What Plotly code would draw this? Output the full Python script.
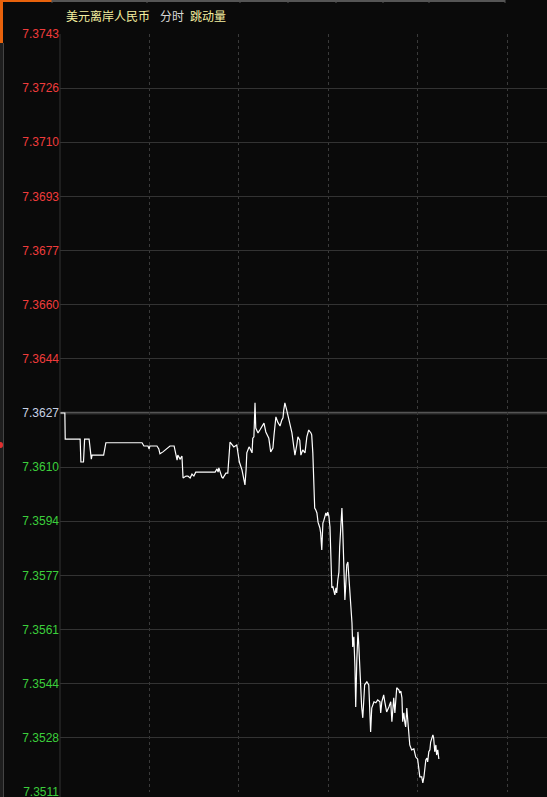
import numpy as np
import plotly.graph_objects as go

BG = "#0a0a0a"
GRID = "#333333"
UP_RED = "#f03c3c"
DOWN_GREEN = "#3ccf3c"
FLAT = "#c8d2e6"
TITLE_YELLOW = "#f5f0a0"

# minutes since session open (4h between dotted gridlines)
MINUTES = [
    0, 13, 14, 54, 56, 63, 66, 78, 84, 86, 117, 123, 220, 225, 236, 239, 241,
    260, 265, 268, 276, 295, 306, 311, 314, 316, 322, 327, 330, 338, 343, 349,
    354, 359, 364, 416, 421, 424, 426, 434, 437, 445, 450, 456, 461, 466, 474,
    481, 488, 496, 499, 501, 507, 509, 515, 517, 520, 523, 525, 531, 536, 541,
    547, 552, 560, 565, 571, 574, 579, 584, 590, 595, 598, 600, 603, 608, 614,
    616, 622, 627, 630, 635, 638, 643, 646, 651, 657, 662, 667, 673, 675, 678,
    681, 683, 686, 689, 692, 697, 699, 702, 705, 707, 713, 716, 718, 721, 724,
    726, 729, 732, 734, 737, 740, 742, 745, 748, 750, 753, 756, 758, 761, 764,
    766, 769, 772, 774, 777, 780, 783, 785, 788, 791, 793, 796, 799, 801, 804,
    807, 809, 812, 815, 817, 823, 828, 831, 833, 836, 842, 847, 852, 858, 860,
    863, 868, 871, 874, 876, 882, 887, 890, 893, 895, 898, 900, 903, 909, 911,
    914, 917, 919, 922, 925, 927, 930, 935, 938, 943, 949, 954, 959, 962, 965,
    970, 973, 976, 978, 981, 984, 986, 989, 992, 994, 1000, 1002, 1005, 1008,
    1010, 1013, 1016,
]

PRICES = [
    7.36270, 7.36270, 7.36190, 7.36190, 7.36120, 7.36120, 7.36190, 7.36190,
    7.36129, 7.36141, 7.36141, 7.36179, 7.36179, 7.36169, 7.36169, 7.36160,
    7.36169, 7.36169, 7.36160, 7.36145, 7.36151, 7.36169, 7.36169, 7.36141,
    7.36126, 7.36141, 7.36129, 7.36138, 7.36071, 7.36077, 7.36077, 7.36071,
    7.36083, 7.36077, 7.36089, 7.36089, 7.36099, 7.36089, 7.36102, 7.36074,
    7.36071, 7.36086, 7.36086, 7.36181, 7.36172, 7.36166, 7.36172, 7.36120,
    7.36096, 7.36050, 7.36096, 7.36148, 7.36166, 7.36163, 7.36148, 7.36193,
    7.36197, 7.36301, 7.36224, 7.36209, 7.36218, 7.36227, 7.36239, 7.36212,
    7.36193, 7.36151, 7.36163, 7.36203, 7.36258, 7.36242, 7.36230, 7.36249,
    7.36255, 7.36279, 7.36301, 7.36279, 7.36249, 7.36242, 7.36209, 7.36166,
    7.36141, 7.36172, 7.36197, 7.36187, 7.36141, 7.36157, 7.36148, 7.36197,
    7.36218, 7.36209, 7.36203, 7.36148, 7.36065, 7.35979, 7.35973, 7.35964,
    7.35936, 7.35918, 7.35903, 7.35851, 7.35933, 7.35939, 7.35964, 7.35955,
    7.35967, 7.35955, 7.35921, 7.35814, 7.35735, 7.35738, 7.35728, 7.35713,
    7.35735, 7.35719, 7.35759, 7.35783, 7.35860, 7.35943, 7.35979, 7.35921,
    7.35798, 7.35698, 7.35738, 7.35805, 7.35814, 7.35783, 7.35719, 7.35667,
    7.35627, 7.35554, 7.35585, 7.35493, 7.35370, 7.35514, 7.35600, 7.35566,
    7.35484, 7.35401, 7.35370, 7.35337, 7.35401, 7.35438, 7.35447, 7.35438,
    7.35352, 7.35294, 7.35367, 7.35386, 7.35383, 7.35392, 7.35386, 7.35352,
    7.35386, 7.35407, 7.35386, 7.35355, 7.35355, 7.35370, 7.35386, 7.35325,
    7.35367, 7.35398, 7.35352, 7.35392, 7.35429, 7.35422, 7.35413, 7.35419,
    7.35398, 7.35325, 7.35352, 7.35321, 7.35309, 7.35367, 7.35300, 7.35254,
    7.35239, 7.35242, 7.35217, 7.35211, 7.35184, 7.35156, 7.35156, 7.35138,
    7.35156, 7.35184, 7.35208, 7.35214, 7.35202, 7.35233, 7.35239, 7.35263,
    7.35285, 7.35276, 7.35233, 7.35254, 7.35223, 7.35239, 7.35211,
]

PRE_CLOSE = 7.3627
Y_LOW, Y_HIGH = 7.3511, 7.3743
TICK_LABELS = [
    "7.3511", "7.3528", "7.3544", "7.3561", "7.3577", "7.3594", "7.3610",
    "7.3627", "7.3644", "7.3660", "7.3677", "7.3693", "7.3710", "7.3726",
    "7.3743",
]
X_GRID = [240, 480, 720, 960, 1200]
X_MAX = 1306

W, H = 547, 797
L, T, B = 60, 34, 5
PW, PH = W - L, H - T - B


def px(x):
    return (x - L) / PW


def py(y):
    return (H - B - y) / PH


tick_vals = np.linspace(Y_LOW, Y_HIGH, len(TICK_LABELS))
tick_text = []
for lab in TICK_LABELS:
    v = float(lab)
    c = UP_RED if v > PRE_CLOSE + 1e-6 else (DOWN_GREEN if v < PRE_CLOSE - 1e-6 else FLAT)
    tick_text.append(f"<span style='color:{c}'>{lab}</span>")

fig = go.Figure(
    go.Scatter(
        x=MINUTES,
        y=PRICES,
        mode="lines",
        line=dict(color="white", width=1.2),
        hoverinfo="skip",
    )
)

shapes = [
    # pre-close reference line
    dict(type="line", xref="paper", yref="y", x0=0, x1=1, y0=PRE_CLOSE, y1=PRE_CLOSE,
         line=dict(color="#555555", width=2.5), layer="between"),
    # left axis line
    dict(type="line", xref="paper", yref="paper", x0=0, x1=0, y0=py(34), y1=py(797),
         line=dict(color=GRID, width=1)),
    # left edge strip
    dict(type="rect", xref="paper", yref="paper", x0=px(0), x1=px(3), y0=py(43), y1=py(797),
         fillcolor="#1e1e1e", line=dict(width=0)),
    dict(type="line", xref="paper", yref="paper", x0=px(3.5), x1=px(3.5), y0=py(43), y1=py(797),
         line=dict(color="#444444", width=1)),
    dict(type="rect", xref="paper", yref="paper", x0=px(0), x1=px(3), y0=py(0), y1=py(43),
         fillcolor="#e8620c", line=dict(width=0)),
    # top tab strip
    dict(type="line", xref="paper", yref="paper", x0=px(0), x1=px(52), y0=py(1), y1=py(1),
         line=dict(color="#e8620c", width=2)),
    dict(type="line", xref="paper", yref="paper", x0=px(52), x1=px(505), y0=py(1), y1=py(1),
         line=dict(color="#555555", width=2)),
    dict(type="circle", xref="paper", yref="paper", x0=px(-2), x1=px(3), y0=py(442), y1=py(448),
         fillcolor="#e03030", line=dict(width=0)),
]
for sx in [52, 147, 240, 288, 336, 383, 429, 505]:
    shapes.append(dict(type="line", xref="paper", yref="paper", x0=px(sx), x1=px(sx),
                       y0=py(0), y1=py(3), line=dict(color="#555555", width=1)))

title_font = "Noto Sans CJK SC, sans-serif"
annotations = [
    dict(text="美元离岸人民币", x=px(64), y=py(15), font=dict(color=TITLE_YELLOW, size=12, family=title_font)),
    dict(text="分时", x=px(158), y=py(15), font=dict(color="#d8d8d8", size=12, family=title_font)),
    dict(text="跳动量", x=px(188), y=py(15), font=dict(color=TITLE_YELLOW, size=12, family=title_font)),
]
for a in annotations:
    a.update(xref="paper", yref="paper", xanchor="left", yanchor="middle", showarrow=False)

fig.update_layout(
    width=W,
    height=H,
    margin=dict(l=L, r=0, t=T, b=B),
    paper_bgcolor=BG,
    plot_bgcolor=BG,
    showlegend=False,
    shapes=shapes,
    annotations=annotations,
    xaxis=dict(
        range=[0, X_MAX],
        tickvals=X_GRID,
        showticklabels=False,
        showgrid=True,
        gridcolor="#3a3a3a",
        griddash="dot",
        gridwidth=1,
        zeroline=False,
        showline=False,
        fixedrange=True,
    ),
    yaxis=dict(
        range=[Y_LOW, Y_HIGH],
        tickvals=tick_vals,
        ticktext=tick_text,
        tickfont=dict(family="Liberation Sans, Arial, sans-serif", size=12),
        ticks="",
        ticklabelstandoff=0,
        ticklabeloverflow="allow",
        showgrid=True,
        gridcolor=GRID,
        gridwidth=1,
        zeroline=False,
        showline=False,
        automargin=False,
        fixedrange=True,
    ),
)

# page has a default 8px body margin; drop it so the chart fills the window
fig.write_html(
    "out.html",
    config={"displayModeBar": False},
    post_script="document.body.style.margin='0';document.body.style.background='%s';"
                "document.body.style.overflow='hidden';" % BG,
)
